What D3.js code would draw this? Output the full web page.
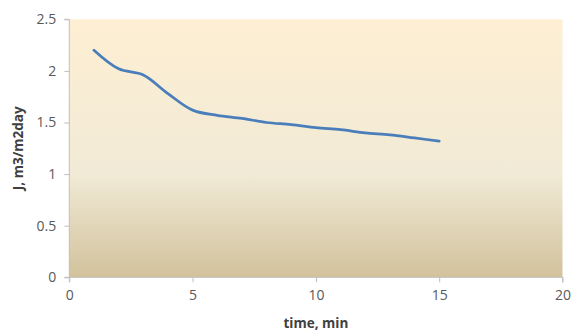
<!DOCTYPE html>
<html><head><meta charset="utf-8">
<script src="https://cdn.jsdelivr.net/npm/d3@7"></script>
<style>body{margin:0;background:#fff}svg{display:block}</style>
</head><body>
<svg id="c" width="576" height="331"></svg>
<script>
const timeMin = [1,2,3,4,5,6,7,8,9,10,11,12,13,14,15];
const fluxJ = [2.2,2.02,1.96,1.78,1.62,1.57,1.54,1.50,1.48,1.45,1.43,1.40,1.38,1.35,1.32];
const xTicks = [0,5,10,15,20];
const yTicks = [0,0.5,1,1.5,2,2.5];
const yTickLabels = ["0","0.5","1","1.5","2","2.5"];
const xTitle = "time, min";
const yTitle = "J, m3/m2day";

const svg = d3.select("#c");
const L=69.3, R=562.5, T=19.3, B=277.3;
const x = d3.scaleLinear().domain([0,20]).range([L,R]);
const y = d3.scaleLinear().domain([0,2.5]).range([B,T]);

const defs = svg.append("defs");
const g = defs.append("linearGradient").attr("id","bg").attr("x1",0).attr("y1",0).attr("x2",0).attr("y2",1);
g.append("stop").attr("offset","0%").attr("stop-color","#feefd3");
g.append("stop").attr("offset","60%").attr("stop-color","#f1ead6");
g.append("stop").attr("offset","100%").attr("stop-color","#d2c29c");

svg.append("rect").attr("x",L).attr("y",T).attr("width",R-L).attr("height",B-T).attr("fill","url(#bg)");

const font = "'Open Sans', 'Liberation Sans', sans-serif";
const xAxis = svg.append("g").attr("transform",`translate(0,${B})`)
  .call(d3.axisBottom(x).tickValues(xTicks).tickSize(5).tickPadding(8).tickFormat(d3.format("d")));
const yAxis = svg.append("g").attr("transform",`translate(${L},0)`)
  .call(d3.axisLeft(y).tickValues(yTicks).tickSize(5).tickPadding(8).tickFormat((d,i)=>yTickLabels[i]));
[xAxis,yAxis].forEach(a=>{
  a.select(".domain").attr("stroke","#bfbfbf").attr("stroke-width",1);
  a.selectAll(".tick line").attr("stroke","#bfbfbf");
  a.selectAll("text").attr("fill","#595959").style("font-family",font).style("font-size","14px");
});
xAxis.select(".domain").attr("d",`M${L},5V0H${R}V5`);
yAxis.select(".domain").attr("d",`M-5,${B}H0V${T}H-5`);

svg.append("path").datum(timeMin.map((t,i)=>[t,fluxJ[i]]))
  .attr("d", d3.line().x(d=>x(d[0])).y(d=>y(d[1])).curve(d3.curveCatmullRom.alpha(0.5)))
  .attr("fill","none").attr("stroke","#4a7ebb").attr("stroke-width",2.75).attr("stroke-linecap","round");

svg.append("text").attr("x",(L+R)/2).attr("y",328).attr("text-anchor","middle")
  .style("font-family",font).style("font-size","13.5px").style("font-weight","bold").attr("fill","#404040").text(xTitle);
svg.append("text").attr("transform",`translate(23,${(T+B)/2}) rotate(-90)`).attr("text-anchor","middle")
  .style("font-family",font).style("font-size","13.5px").style("font-weight","bold").attr("fill","#404040").text(yTitle);
</script>
</body></html>
